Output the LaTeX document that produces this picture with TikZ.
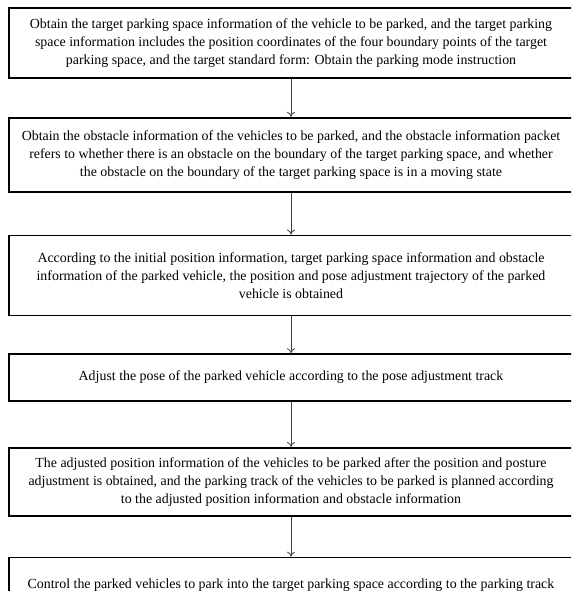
\documentclass[tikz,border=0pt]{standalone}
\usepackage{fontspec}
\setmainfont{Liberation Serif}
\usetikzlibrary{arrows.meta}
\usetikzlibrary{positioning}

\begin{document}
\begin{tikzpicture} [every node/.style={draw,line width=1.7pt,minimum width=564pt,align=center,font=\fontsize{13.9}{18}\selectfont}]
\clip (0,0) rectangle (571pt,-591pt);
\useasboundingbox (0,0) rectangle (571pt,-591pt);
\node (a) [minimum height=70pt] at (291pt,-43pt) {Obtain the target parking space information of the vehicle to be parked, and the target parking\\space information includes the position coordinates of the four boundary points of the target\\parking space, and the target standard form: Obtain the parking mode instruction};
\node (b) [below=38pt of a,minimum height=74pt] {Obtain the obstacle information of the vehicles to be parked, and the obstacle information packet\\refers to whether there is an obstacle on the boundary of the target parking space, and whether\\the obstacle on the boundary of the target parking space is in a moving state};
\node (c) [below=42pt of b,minimum height=80pt] {According to the initial position information, target parking space information and obstacle\\information of the parked vehicle, the position and pose adjustment trajectory of the parked\\vehicle is obtained};
\node (d) [below=37pt of c,minimum height=47pt] {Adjust the pose of the parked vehicle according to the pose adjustment track};
\node (e) [below=45pt of d,minimum height=68pt] {The adjusted position information of the vehicles to be parked after the position and posture\\adjustment is obtained, and the parking track of the vehicles to be parked is planned according\\to the adjusted position information and obstacle information};
\node (f) [below=40pt of e,minimum height=56pt] {Control the parked vehicles to park into the target parking space according to the parking track};

\draw[-{To[length=5pt,width=8pt]},line width=0.8pt,black!75](a)--(b);
\draw[-{To[length=5pt,width=8pt]},line width=0.8pt,black!75](b)--(c);
\draw[-{To[length=5pt,width=8pt]},line width=0.8pt,black!75](c)--(d);
\draw[-{To[length=5pt,width=8pt]},line width=0.8pt,black!75](d)--(e);
\draw[-{To[length=5pt,width=8pt]},line width=0.8pt,black!75](e)--(f);
\end{tikzpicture}
\end{document}
